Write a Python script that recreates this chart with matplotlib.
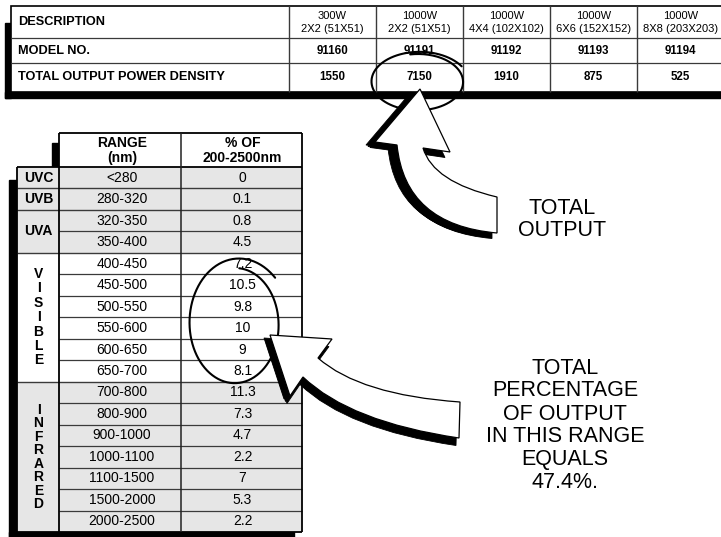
import numpy as np
import matplotlib
matplotlib.use("Agg")
import matplotlib.pyplot as plt
from matplotlib.patches import Rectangle, PathPatch
from matplotlib.path import Path

plt.rcParams["font.family"] = ["Liberation Sans", "DejaVu Sans"]

# --- data: lamp table --------------------------------------------------------
row_titles = ["DESCRIPTION", "MODEL NO.", "TOTAL OUTPUT POWER DENSITY"]
lamp_power = ["300W", "1000W", "1000W", "1000W", "1000W"]
lamp_size = ["2X2 (51X51)", "2X2 (51X51)", "4X4 (102X102)",
             "6X6 (152X152)", "8X8 (203X203)"]
model_no = ["91160", "91191", "91192", "91193", "91194"]
power_density = [1550, 7150, 1910, 875, 525]

# --- data: spectral distribution -----------------------------------------------
ranges = ["<280", "280-320", "320-350", "350-400", "400-450", "450-500",
          "500-550", "550-600", "600-650", "650-700", "700-800", "800-900",
          "900-1000", "1000-1100", "1100-1500", "1500-2000", "2000-2500"]
pct = [0, 0.1, 0.8, 4.5, 7.2, 10.5, 9.8, 10, 9, 8.1, 11.3, 7.3, 4.7, 2.2,
       7, 5.3, 2.2]
bands = ["UVC", "UVB", "UVA", "VISIBLE", "INFRARED"]
band_rows = [1, 1, 2, 6, 7]
band_shaded = [True, True, True, False, True]

circled_lamp = 1          # column circled in the top table
circled_rows = (5, 10)    # 450-700 nm

W, H = 721, 537
GRID = "#3a3a3a"
SHADE = "#e6e6e6"

fig = plt.figure(figsize=(W / 100, H / 100), dpi=100)
ax = fig.add_axes([0, 0, 1, 1])
ax.set_xlim(0, W)
ax.set_ylim(H, 0)
ax.axis("off")


def hline(y, x0, x1, lw=0.9, c=GRID):
    ax.plot([x0, x1], [y, y], color=c, lw=lw, solid_capstyle="butt", zorder=3)


def vline(x, y0, y1, lw=0.9, c=GRID):
    ax.plot([x, x], [y0, y1], color=c, lw=lw, solid_capstyle="butt", zorder=3)


# --- top table ----------------------------------------------------------------
tx0, tx_lab, col_w = 11, 289, 87
ty = [6, 38, 63, 92]
tx1 = W + 5   # runs off the right edge
col_edges = [tx_lab + i * col_w for i in range(len(model_no))]
col_mid = [e + col_w / 2 for e in col_edges]

ax.add_patch(Rectangle((tx0 - 6, ty[0] + 17), 6, ty[-1] + 6 - ty[0] - 17,
                       color="black", zorder=2))
ax.add_patch(Rectangle((tx0 - 6, ty[-1]), W, 6, color="black", zorder=2))
ax.add_patch(Rectangle((tx0, ty[0]), tx1 - tx0, ty[-1] - ty[0], fc="white",
                       ec="black", lw=1.2, zorder=2))
for y in ty[1:-1]:
    hline(y, tx0, tx1)
for x in col_edges:
    vline(x, ty[0], ty[-1], lw=1.0)

for i, t in enumerate(row_titles):
    ax.text(tx0 + 7, (ty[i] + ty[i + 1]) / 2, t, ha="left", va="center",
            fontsize=9.2, fontweight="bold", zorder=4)
for i in range(len(model_no)):
    cy = (ty[0] + ty[1]) / 2
    ax.text(col_mid[i], cy - 6, lamp_power[i], ha="center", va="center",
            fontsize=8, zorder=4)
    ax.text(col_mid[i], cy + 6.5, lamp_size[i], ha="center", va="center",
            fontsize=8, zorder=4)
    ax.text(col_mid[i], (ty[1] + ty[2]) / 2, model_no[i], ha="center",
            va="center", fontsize=8.3, fontweight="bold", zorder=4)
    ax.text(col_mid[i], (ty[2] + ty[3]) / 2, f"{power_density[i]}",
            ha="center", va="center", fontsize=8.3, fontweight="bold", zorder=4)

# --- spectral table ---------------------------------------------------------------
sx = [17, 59, 181, 302]
head_top, head_bot, s_bot = 133, 167, 532
rh = (s_bot - head_bot) / len(ranges)
row_y = [head_bot + i * rh for i in range(len(ranges) + 1)]

ax.add_patch(Rectangle((sx[1] - 7, head_top + 10), 7, head_bot - head_top - 10,
                       color="black", zorder=2))
ax.add_patch(Rectangle((sx[0] - 8, head_bot + 13), 8, H - head_bot - 13,
                       color="black", zorder=2))
ax.add_patch(Rectangle((sx[0] - 8, s_bot), sx[3] - sx[0], 8, color="black",
                       zorder=2))
ax.add_patch(Rectangle((sx[0], head_bot), sx[3] - sx[0], s_bot - head_bot,
                       fc="white", ec="none", zorder=2))
ax.add_patch(Rectangle((sx[1], head_top), sx[3] - sx[1], head_bot - head_top,
                       fc="white", ec="none", zorder=2))

band_start = np.concatenate([[0], np.cumsum(band_rows)])
for b, name in enumerate(bands):
    r0, r1 = band_start[b], band_start[b + 1]
    if band_shaded[b]:
        ax.add_patch(Rectangle((sx[0], row_y[r0]), sx[3] - sx[0],
                               row_y[r1] - row_y[r0], fc=SHADE, ec="none",
                               zorder=2))
    cy = (row_y[r0] + row_y[r1]) / 2
    lx = (sx[0] + sx[1]) / 2 + 0.5
    if len(name) <= 3:
        ax.text(lx, cy, name, ha="center", va="center", fontsize=10,
                fontweight="bold", zorder=4)
    else:
        step = 14.4 if name == "VISIBLE" else 13.5
        for k, ch in enumerate(name):
            ax.text(lx, cy + (k - (len(name) - 1) / 2) * step, ch,
                    ha="center", va="center", fontsize=10, fontweight="bold",
                    zorder=4)

for i in range(1, len(ranges)):
    start = sx[0] if i in band_start else sx[1]
    hline(row_y[i], start, sx[3], lw=1.0 if i in band_start else 0.9)
hline(head_top, sx[1], sx[3], lw=1.3, c="black")
hline(head_bot, sx[0], sx[3], lw=1.3, c="black")
hline(s_bot, sx[0], sx[3], lw=1.3, c="black")
vline(sx[0], head_bot, s_bot, lw=1.3, c="black")
vline(sx[1], head_top, s_bot, lw=1.3, c="black")
vline(sx[2], head_top, s_bot, lw=1.1, c="#222222")
vline(sx[3], head_top, s_bot, lw=1.3, c="black")

hc = (head_top + head_bot) / 2
for x, (a, b) in zip([(sx[1] + sx[2]) / 2 + 2, (sx[2] + sx[3]) / 2 + 1],
                     [("RANGE", "(nm)"), ("% OF", "200-2500nm")]):
    ax.text(x, hc - 7, a, ha="center", va="center", fontsize=10,
            fontweight="bold", zorder=4)
    ax.text(x, hc + 8, b, ha="center", va="center", fontsize=10,
            fontweight="bold", zorder=4)

for i, (r, v) in enumerate(zip(ranges, pct)):
    cy = (row_y[i] + row_y[i + 1]) / 2
    ax.text((sx[1] + sx[2]) / 2 + 2, cy, r, ha="center", va="center",
            fontsize=10, zorder=4)
    ax.text((sx[2] + sx[3]) / 2 + 1, cy, f"{v:g}", ha="center", va="center",
            fontsize=10, zorder=4)


# --- hand drawn circles ---------------------------------------------------------
def hand_loop(cx, cy, rx, ry, a0, a1, grow):
    th = np.radians(np.linspace(a0, a1, 300))
    f = (th - th[0]) / (th[-1] - th[0])
    s = 1 + grow * f ** 3
    ax.plot(cx + rx * s * np.cos(th), cy + ry * s * np.sin(th), color="black",
            lw=1.5, solid_capstyle="round", zorder=5)


hand_loop(col_mid[circled_lamp] - 1.5, (ty[2] + ty[3]) / 2 + 4.5, 45, 28,
          -100, 330, 0.12)
r0, r1 = circled_rows
hand_loop((sx[2] + sx[3]) / 2 - 6, (row_y[r0] + row_y[r1]) / 2 - 3, 43, 57,
          -85, 318, 0.24)


# --- block arrows -----------------------------------------------------------------
def block_arrow(verts, offsets):
    verts = np.asarray(verts, float)
    codes = [Path.MOVETO, Path.LINETO, Path.LINETO, Path.CURVE3, Path.CURVE3,
             Path.LINETO, Path.CURVE3, Path.CURVE3, Path.LINETO,
             Path.CLOSEPOLY]
    for dx, dy in offsets:
        ax.add_patch(PathPatch(Path(verts + [dx, dy], codes), fc="black",
                               ec="black", lw=0.6, zorder=6))
    ax.add_patch(PathPatch(Path(verts, codes), fc="white", ec="black",
                           lw=0.9, zorder=7))


block_arrow([(420, 89), (450, 152), (423, 148), (433, 182), (497, 197),
             (497, 233), (405, 225), (397, 145), (375, 142), (420, 89)],
            [(-9, 3), (-7, 4.5), (-5, 5.5)])
block_arrow([(270, 335), (332, 339), (318, 358), (360, 395), (460, 402),
             (459, 438), (350, 422), (303, 377), (290, 396), (270, 335)],
            [(-6, 3), (-4.5, 5.5), (-3, 7.5)])

# --- notes ------------------------------------------------------------------------------
note_output = ["TOTAL", "OUTPUT"]
note_range = ["TOTAL", "PERCENTAGE", "OF OUTPUT", "IN THIS RANGE", "EQUALS",
              f"{sum(pct[r0:r1]):.1f}%."]
for k, t in enumerate(note_output):
    ax.text(562, 208 + 22 * k, t, ha="center", va="center", fontsize=15.5,
            zorder=8)
for k, t in enumerate(note_range):
    ax.text(565, 368 + 23 * k, t, ha="center", va="center", fontsize=15.5,
            zorder=8)

fig.savefig("out.png", dpi=100)
